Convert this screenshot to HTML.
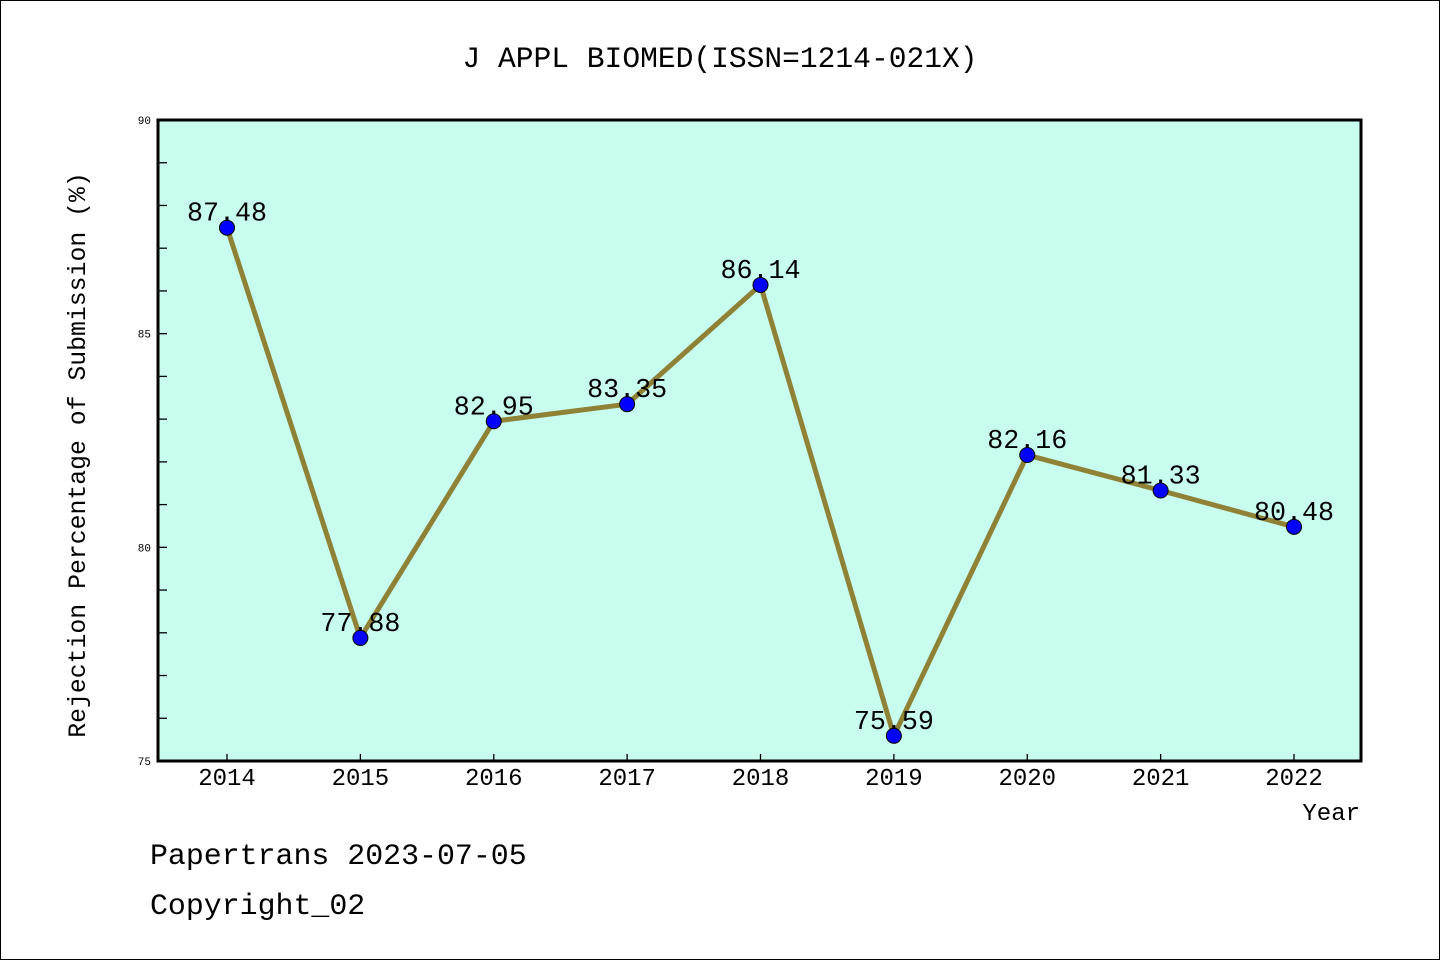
<!DOCTYPE html>
<html><head><meta charset="utf-8"><style>
body{margin:0;background:#fff}
svg text{font-family:"Liberation Mono",monospace;fill:#000}
</style></head><body>
<svg id="chart" width="1440" height="960" xmlns="http://www.w3.org/2000/svg">
<rect x="0.5" y="0.5" width="1439" height="959" fill="#fff" stroke="#000"/>
<text x="720" y="67" font-size="29.6" text-anchor="middle">J APPL BIOMED(ISSN=1214-021X)</text>
<rect x="158" y="120" width="1203" height="641" fill="#c8fcee"/>
<g id="ticks"></g>
<g id="series"></g>
<rect x="158" y="120" width="1203" height="641" fill="none" stroke="#000" stroke-width="3"/>
<text x="85" y="455" font-size="24.8" text-anchor="middle" transform="rotate(-90 85 455)">Rejection Percentage of Submission (%)</text>
<text x="1360" y="820" font-size="24" text-anchor="end">Year</text>
<text x="150" y="864" font-size="29.9">Papertrans 2023-07-05</text>
<text x="150" y="914" font-size="29.9">Copyright_02</text>
</svg>
<script>
const years=["2014","2015","2016","2017","2018","2019","2020","2021","2022"];
const values=[87.48,77.88,82.95,83.35,86.14,75.59,82.16,81.33,80.48];
const yTickLabels=[75,80,85,90];
const NS="http://www.w3.org/2000/svg";
const x0=227,dx=133.375,yTop=120,yBot=761,yMin=75,yMax=90;
const xs=i=>x0+i*dx;
const ys=v=>yBot-(v-yMin)/(yMax-yMin)*(yBot-yTop);
function mk(tag,attrs,parent,txt){const e=document.createElementNS(NS,tag);for(const k in attrs)e.setAttribute(k,attrs[k]);if(txt!==undefined)e.textContent=txt;parent.appendChild(e);return e;}
const tg=document.getElementById('ticks'),sg=document.getElementById('series');
for(let v=yMin;v<=yMax;v++){
  const t=mk('line',{x1:158,x2:167,y1:ys(v),y2:ys(v),stroke:'#000','stroke-width':1.3},tg);
  
  
}
yTickLabels.forEach(v=>{
  const t=mk('text',{x:151,y:ys(v)+4,'font-size':11,'text-anchor':'end'},tg,String(v));
  
  
});
years.forEach((y,i)=>{
  const t=mk('line',{x1:xs(i),x2:xs(i),y1:761,y2:754,stroke:'#000','stroke-width':1.3},tg);
  
  
  const l=mk('text',{x:xs(i),y:785,'font-size':24,'text-anchor':'middle'},tg,y);
  
  
});
const line=mk('polyline',{points:values.map((v,i)=>xs(i)+','+ys(v)).join(' '),fill:'none',stroke:'#8f8236','stroke-width':5,'stroke-linejoin':'round'},sg);


values.forEach((v,i)=>{
  const c=mk('circle',{cx:xs(i),cy:ys(v),r:7.5,fill:'#0000ff',stroke:'#000','stroke-width':1},sg);
  
  
  const t=mk('text',{x:xs(i),y:ys(v)-7,'font-size':26.7,'text-anchor':'middle'},sg,v.toFixed(2));
  
  
});
</script>
</body></html>
